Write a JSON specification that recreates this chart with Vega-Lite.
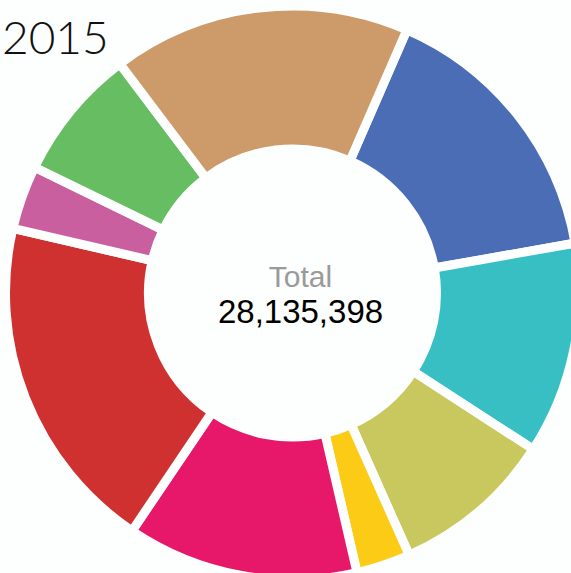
{
  "$schema": "https://vega.github.io/schema/vega-lite/v6.json",
  "autosize": "none",
  "width": 557,
  "height": 560,
  "padding": {"left": 14, "top": 13, "right": 0, "bottom": 0},
  "background": "#fdfefe",
  "title": {
    "text": "2015",
    "anchor": "start",
    "frame": "group",
    "orient": "top",
    "offset": -112,
    "baseline": "alphabetic",
    "dx": -12,
    "font": "Lato",
    "fontSize": 46,
    "fontWeight": 300,
    "color": "#111111"
  },
  "data": {
    "values": [
      {"order": 1, "segment": "Blue", "count": 4415700},
      {"order": 2, "segment": "Cyan", "count": 3360600},
      {"order": 3, "segment": "Olive", "count": 2579100},
      {"order": 4, "segment": "Yellow", "count": 859700},
      {"order": 5, "segment": "Pink", "count": 3673200},
      {"order": 6, "segment": "Red", "count": 5392600},
      {"order": 7, "segment": "Magenta", "count": 1016000},
      {"order": 8, "segment": "Green", "count": 2110200},
      {"order": 9, "segment": "Brown", "count": 4728298}
    ]
  },
  "layer": [
    {
      "mark": {"type": "arc", "innerRadius": 144, "outerRadius": 287, "stroke": "#fdfefe", "strokeWidth": 9},
      "encoding": {
        "theta": {"field": "count", "type": "quantitative", "stack": true, "scale": {"range": [0.4102, 6.6934]}},
        "order": {"field": "order", "type": "quantitative"},
        "color": {
          "field": "segment",
          "type": "nominal",
          "legend": null,
          "scale": {
            "domain": ["Blue", "Cyan", "Olive", "Yellow", "Pink", "Red", "Magenta", "Green", "Brown"],
            "range": ["#4b6db6", "#38bfc4", "#c8c85e", "#fbcb15", "#e7186a", "#cf3030", "#c95f9e", "#66bd62", "#cd9b6a"]
          }
        }
      }
    },
    {
      "data": {"values": [{"label": "Total"}]},
      "mark": {"type": "text", "font": "Liberation Sans", "fontSize": 30, "color": "#9a9a9a", "align": "center", "baseline": "alphabetic", "dx": 8, "dy": -6},
      "encoding": {"text": {"field": "label"}}
    },
    {
      "data": {"values": [{"label": "28,135,398"}]},
      "mark": {"type": "text", "font": "Liberation Sans", "fontSize": 33, "color": "#000000", "align": "center", "baseline": "alphabetic", "dx": 8, "dy": 30},
      "encoding": {"text": {"field": "label"}}
    }
  ]
}
